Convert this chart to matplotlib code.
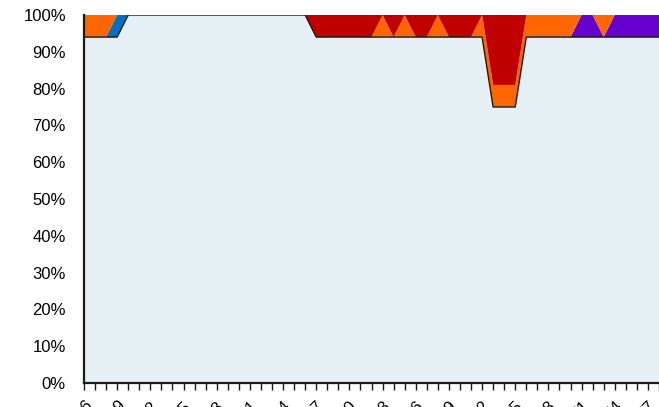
import matplotlib

matplotlib.use("Agg")
import matplotlib.pyplot as plt  # noqa: E402
from matplotlib.ticker import FuncFormatter  # noqa: E402

# --------------------------------------------------------------------------- #
# Data (percent share per category, stacked to 100)
# --------------------------------------------------------------------------- #

categories = list(range(6, 59))  # 53 categories, every third one labelled

base_share = [94, 94, 94, 94] + [100] * 17 + [94] * 16 + [75, 75, 75] + [94] * 13
blue_share = [0, 0, 0, 6] + [0] * 49
purple_share = [0] * 45 + [6, 6, 0, 6, 6, 6, 6, 6]
orange_share = (
    [6, 6, 6, 0] + [0] * 17
    + [0, 0, 0, 0, 0, 0, 6, 0, 6, 0, 0, 6, 0, 0, 0, 6]
    + [6, 6, 6]
    + [6, 6, 6, 6, 6, 0, 0, 6, 0, 0, 0, 0, 0]
)
red_share = (
    [0] * 21
    + [6, 6, 6, 6, 6, 6, 0, 6, 0, 6, 6, 0, 6, 6, 6, 0]
    + [19, 19, 19]
    + [0] * 13
)

tick_labels = ["6", "9", "12", "15", "18", "21", "24", "27", "30",
               "33", "36", "39", "42", "45", "48", "51", "54", "57"]

COLORS = ["#e6eff3", "#0070c0", "#6600cc", "#ff6600", "#c00000"]

# --------------------------------------------------------------------------- #
# Plot
# --------------------------------------------------------------------------- #

plt.rcParams["font.family"] = ["Liberation Sans", "DejaVu Sans"]

fig = plt.figure(figsize=(6.59, 4.07), dpi=100)
ax = fig.add_axes([84 / 659, 24 / 407, 575 / 659, 368 / 407])

x = list(range(len(categories)))
ax.stackplot(
    x,
    base_share,
    blue_share,
    purple_share,
    orange_share,
    red_share,
    colors=COLORS,
    linewidth=0,
)
ax.plot(x, base_share, color="#1a1a1a", lw=1.0)

ax.set_xlim(0, len(categories) - 1)
ax.set_ylim(0, 100)
ax.set_yticks(range(0, 101, 10))
ax.yaxis.set_major_formatter(FuncFormatter(lambda v, _: f"{v:.0f}%"))
ax.tick_params(axis="y", length=0, labelsize=12, pad=13, colors="#000000")

ax.set_xticks(x)
ax.set_xticklabels(
    [tick_labels[i // 3] if i % 3 == 0 else "" for i in x],
    rotation=45,
    ha="right",
    rotation_mode="anchor",
    fontsize=12,
)
ax.tick_params(axis="x", length=5, width=1, direction="out", color="#1a1a1a", pad=6)

for side in ("top", "right"):
    ax.spines[side].set_visible(False)
for side in ("left", "bottom"):
    ax.spines[side].set_color("#1a1a1a")
    ax.spines[side].set_linewidth(1.6)

fig.savefig("out.png", dpi=100)
